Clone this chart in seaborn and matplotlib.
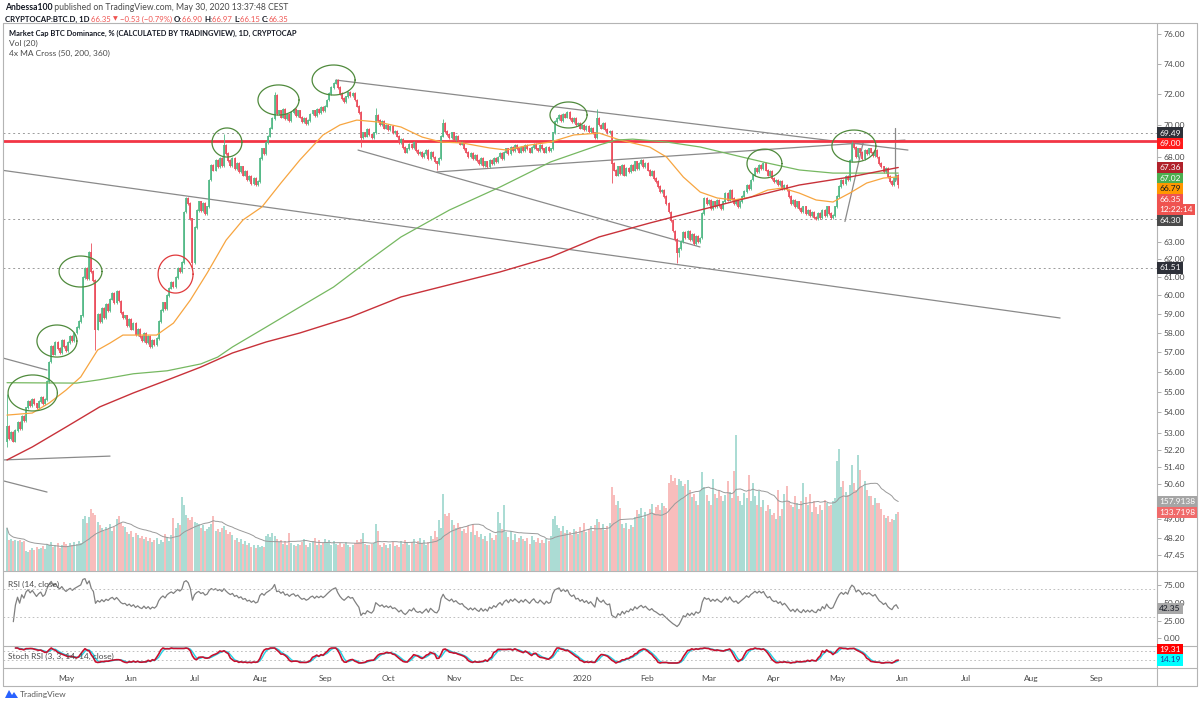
import numpy as np
import pandas as pd
import matplotlib
matplotlib.use("Agg")
import matplotlib.pyplot as plt
import matplotlib.dates as mdates
from matplotlib.lines import Line2D
from matplotlib.patches import Polygon
from matplotlib.ticker import FixedLocator, NullLocator, FuncFormatter
import seaborn as sns

sns.set_theme(style="white")
plt.rcParams["font.family"] = ["Lato", "DejaVu Sans"]

W, H = 1200, 704
START = pd.Timestamp("2019-04-03")

# ---------------- data (daily closes, BTC dominance %) ----------------
close_part1 = [53.3, 52.7, 53.0, 52.6, 53.1, 53.5, 53.2, 53.8, 53.6, 54.2, 54.5, 54.3, 54.6, 54.4, 54.2, 54.5, 54.7, 54.4, 54.6,
               55.5, 56.5, 57.3, 56.9, 57.5, 57.2, 57.0, 57.6, 57.3, 57.1, 57.5, 57.8, 57.6, 58.0, 58.3, 58.6, 58.9,
               61.0, 61.5, 60.9, 62.4, 61.3, 60.8, 58.2, 59.0,
               58.6, 59.3, 58.8, 59.5, 59.2, 59.8, 60.1, 59.6, 60.2, 59.7, 59.1, 58.8,
               58.9, 58.4, 58.7, 58.2, 58.5, 57.9, 58.2, 57.8,
               57.6, 58.0, 57.5, 57.8, 57.3, 57.6, 57.4, 57.7]
close_part2 = [58.6, 59.2, 59.6, 59.3, 60.0, 60.4, 60.7, 60.5, 61.0,
               61.5, 61.3, 61.8,
               64.7, 65.5, 65.2, 64.3, 61.8, 63.8, 64.8, 65.3, 64.8, 65.2, 64.6, 65.0,
               66.6, 67.5, 67.2, 67.8, 67.4, 67.9, 67.5, 68.7, 68.2, 67.8, 67.5, 67.9, 67.3, 67.6, 67.1, 67.4,
               66.9, 67.1, 66.6, 66.8, 66.4, 66.7, 66.3, 66.5,
               67.9, 68.5, 68.2, 68.9, 69.3, 69.8, 70.4, 71.9, 70.7,
               70.9, 70.5, 71.0, 70.4, 70.7, 70.3, 70.8, 71.0, 70.6,
               70.9, 70.5, 70.2, 70.4, 70.1, 70.3]
close_part3 = [70.7, 70.9, 70.6, 71.0, 70.8, 71.1, 70.9, 71.2,
               71.6, 72.0, 72.4, 72.7, 72.9,
               72.4, 72.0, 71.7, 71.5, 71.8,
               72.1, 71.9, 72.0, 71.6,
               71.2, 70.8, 69.2,
               69.5, 69.3, 69.7, 69.4, 69.2, 69.5,
               70.6,
               70.3, 70.0, 70.2, 69.8, 70.0, 69.7, 69.9, 69.5, 69.6, 69.3,
               68.9, 69.1, 68.6, 68.3, 68.5, 68.8, 68.6, 68.9, 68.4, 68.2,
               68.3, 68.0, 68.2, 68.4, 67.9, 68.3, 68.0, 67.7, 67.6, 67.9]
close_part4 = [69.3, 70.1, 69.6,
               69.4, 69.2, 69.5, 69.1, 69.3, 69.0, 68.8, 68.9,
               68.5, 68.3, 68.0, 68.2, 67.9, 68.1, 67.8,
               67.6, 67.9, 67.5, 67.7, 67.4, 67.8, 67.6, 67.9, 67.7, 68.0,
               68.2, 67.9, 68.3, 68.5, 68.2, 68.6, 68.4, 68.7, 68.5, 68.3, 68.6, 68.4,
               68.7, 68.5, 68.3, 68.6, 68.8, 68.5, 68.4, 68.7, 68.5, 68.3, 68.6, 68.4, 68.5,
               69.5, 70.2,
               70.4, 70.6, 70.3, 70.7, 70.5, 70.8, 70.4,
               70.2, 70.4, 70.0, 70.1, 69.8, 70.0, 69.7, 69.9, 69.6, 69.8, 69.5,
               69.2, 70.4, 70.0,
               69.8, 70.1, 69.7, 69.5, 69.6,
               67.6]
close_part5 = [67.2, 66.9, 67.4, 67.0, 67.5, 66.9, 67.3, 67.1, 67.5, 67.2, 67.7, 67.3, 67.6, 67.8, 67.4, 67.6, 67.2,
               66.9, 67.1, 66.7, 66.5, 66.2, 65.9, 66.0, 65.6, 65.2, 64.7, 64.2, 63.6, 63.1, 62.4,
               62.6, 63.0, 63.5, 63.2, 63.6, 63.1, 63.4, 62.9, 63.3, 63.0, 63.2,
               64.6, 65.5, 65.2, 65.4, 64.9, 65.3, 65.0, 65.4, 65.1, 64.9, 65.3, 65.8, 65.4, 66.0, 65.5, 65.2, 65.4, 65.0, 65.3, 65.6]
close_part6 = [65.9, 66.3, 66.1, 66.6, 66.9, 67.3, 67.1, 67.5, 67.3, 67.6, 67.2, 66.9, 67.1, 66.7, 66.5,
               66.6, 66.3, 66.5, 66.1, 66.3, 66.0, 65.6, 65.2, 65.4,
               65.0, 65.3, 64.9, 64.7, 65.0, 64.6, 64.8, 64.5, 64.7, 64.4, 64.3, 64.6, 64.4, 64.8, 64.5, 65.0, 64.6, 64.4, 64.5,
               65.0, 65.6, 66.2, 66.6, 66.4, 66.8, 66.6,
               67.8, 68.8, 68.6, 68.0, 68.5, 68.3, 67.9, 68.4, 68.2, 68.5, 68.3, 68.1, 68.4, 68.0,
               67.6, 67.4, 67.1, 67.3, 66.8, 66.5, 66.3, 66.7, 66.88, 66.35]

first_open = 52.6
open_override = {423: 66.90}
wick_high = {0: 54.9, 40: 62.9, 103: 69.4, 127: 72.1, 156: 73.0, 175: 71.1, 207: 70.4,
             280: 71.0, 401: 69.0, 423: 66.97}
wick_low = {0: 52.3, 42: 57.1, 88: 61.5, 168: 68.6, 204: 67.2, 287: 66.4, 318: 61.8,
            319: 62.1, 423: 66.15}

volume_part1 = [98, 70, 72, 68, 71, 69, 70, 66, 68, 45, 44, 47, 52, 48, 55, 50, 53, 57, 49,
                62, 58, 66, 55, 60, 64, 52, 58, 67, 61, 57, 63, 60, 66, 62, 68, 64,
                118, 126, 108, 122, 141, 132, 128, 112,
                104, 98, 92, 100, 95, 106, 90, 101, 118, 125, 110, 102,
                99, 88, 84, 90, 78, 86, 82, 76,
                80, 72, 78, 68, 75, 66, 70, 74]
volume_part2 = [62, 70, 65, 83, 77, 68, 82, 121, 98,
                110, 105, 168,
                151, 128, 120, 116, 122, 112, 108, 106, 98, 104, 92, 96,
                100, 106, 125, 92, 96, 88, 98, 102, 94, 85, 88, 82, 70, 76, 66, 72, 62, 68, 58, 63, 55, 60, 53, 58,
                55, 57, 54, 80, 84, 77, 86, 80, 72,
                66, 70, 62, 68, 58, 87, 64, 60, 56,
                62, 58, 66, 72, 60, 55]
volume_part3 = [63, 68, 76, 60, 70, 58, 64, 72,
                66, 70, 60, 68, 62,
                58, 64, 55, 62, 66,
                60, 54, 58, 63,
                70, 65, 72,
                87, 62, 60, 58, 61, 64,
                107,
                91, 60, 55, 64, 58, 53, 62, 66, 57, 60,
                55, 68, 62, 70, 64, 59, 66, 72, 61, 68,
                75, 63, 70, 58, 66, 80, 72, 90, 78, 117]
volume_part4 = [98, 174, 130,
                125, 132, 117, 105, 98, 110, 100, 92,
                95, 86, 102, 88, 106, 82, 90,
                78, 84, 72, 80, 68, 86, 74, 70, 82, 134,
                110, 95, 150, 88, 78, 92, 70, 84, 66, 76, 80, 72,
                68, 74, 62, 80, 70, 66, 75, 63, 70, 64, 72, 68, 80,
                118, 125,
                104, 98, 90, 102, 86, 94, 88,
                82, 96, 90, 84, 100, 92, 108, 88, 96, 102, 90,
                104, 119, 112,
                98, 106, 94, 102, 110,
                190]
volume_part5 = [172, 150, 158, 144, 106, 98, 110, 96, 104, 100, 122, 138, 130, 144, 120, 135, 128,
                140, 152, 132, 146, 150, 138, 155, 148, 142, 200, 219, 205, 212, 196,
                210, 204, 193, 198, 206, 185, 168, 175, 160, 150, 182,
                225, 190, 172, 160, 150, 208, 175, 165, 185, 170, 158, 172, 204, 180, 165, 227, 310, 170, 160, 150]
volume_part6 = [178, 166, 219, 160, 200, 170, 150, 181, 145, 162, 136, 150, 140, 128, 132,
                118, 185, 126, 140, 175, 193, 160, 150, 145,
                170, 155, 140, 160, 200, 168, 150, 174, 135, 160, 145, 130, 150, 138, 162, 155, 148, 150, 160,
                166, 250, 277, 190, 204, 180, 172,
                195, 240, 200, 185, 263, 229, 190, 205, 185, 170, 170, 150, 166, 155,
                155, 140, 128, 120, 125, 112, 118, 115, 128.556, 133.7198]

# moving averages (day index, value)
ma50_day = [0, 12, 20, 28, 35, 43, 49, 55, 63, 71, 79, 87, 95, 104, 112, 121, 130, 139, 150, 158, 166, 176, 187, 197,
            206, 216, 229, 237, 248, 258, 269, 281, 291, 305, 313, 321, 329, 337, 345, 353, 361, 368, 376, 384, 392,
            400, 408, 416, 423]
ma50_val = [53.85, 53.95, 54.44, 55.08, 55.74, 57.11, 57.48, 57.89, 57.89, 57.89, 58.52, 59.75, 61.23, 63.08, 64.24,
            65.0, 66.42, 67.82, 69.37, 70.0, 70.31, 70.19, 69.87, 69.24, 68.93, 68.87, 68.56, 68.43, 68.74, 68.93,
            69.37, 69.49, 69.05, 68.62, 68.0, 66.78, 65.88, 65.53, 65.41, 65.58, 66.0, 66.12, 65.82, 65.41, 65.29,
            65.82, 66.42, 66.72, 66.79]
ma200_day = [0, 33, 44, 60, 76, 92, 100, 107, 123, 139, 155, 171, 187, 210, 234, 258, 281, 289, 297, 313, 329, 345,
             361, 376, 392, 408, 423]
ma200_val = [55.45, 55.43, 55.6, 55.9, 56.05, 56.4, 56.75, 57.27, 58.31, 59.38, 60.46, 61.87, 63.26, 64.82, 66.18,
             67.7, 68.74, 69.05, 69.11, 68.93, 68.62, 68.12, 67.63, 67.21, 67.02, 67.02, 67.02]
ma360_day = [0, 12, 28, 44, 60, 76, 92, 107, 123, 139, 163, 187, 234, 258, 281, 305, 329, 353, 376, 400, 423]
ma360_val = [51.71, 52.32, 53.27, 54.25, 54.94, 55.58, 56.24, 56.96, 57.53, 58.0, 58.84, 59.92, 61.29, 62.12, 63.26,
             64.06, 64.82, 65.58, 66.3, 66.78, 67.36]

# drawings: horizontal levels, trend lines (day, price, day, price), ellipses (day0, day1, price_lo, price_hi)
level_red = 69.00
levels_dotted = [69.49, 64.30, 61.51]
trend_lines = [(156.1, 72.90, 427.6, 68.43), (166.6, 68.43, 328.9, 62.69), (-3.3, 67.21, 499.8, 58.79),
               (204.1, 67.09, 426.2, 69.05), (397.7, 64.15, 406.3, 68.87), (-1.9, 56.70, 19.0, 56.09),
               (-1.9, 51.71, 48.9, 51.89), (-3.3, 50.78, 19.0, 50.23), (421.6, 69.80, 421.6, 66.55)]
ellipses_green = [(0.5, 23.9, 54.05, 55.84), (14.2, 33.2, 56.75, 58.42), (24.7, 45.1, 60.46, 62.18),
                  (97.3, 111.5, 68.0, 69.81), (119.1, 138.6, 70.63, 72.58), (144.8, 165.2, 71.92, 73.90),
                  (257.7, 275.3, 69.81, 71.47), (351.2, 367.8, 66.72, 68.49), (391.5, 412.4, 67.69, 69.68)]
ellipses_red = [(71.7, 88.3, 60.13, 62.23)]
price_ticks = [76, 74, 72, 70, 68, 63, 62, 61, 60, 59, 58, 57, 56, 55, 54, 53, 52.2, 51.4, 50.6, 49,
               48.2, 47.45]
month_labels = ["May", "Jun", "Jul", "Aug", "Sep", "Oct", "Nov", "Dec", "2020", "Feb", "Mar", "Apr", "May", "Jun",
                "Jul", "Aug", "Sep"]
countdown = "12:22:14"

# ---------------- derived series ----------------
close = np.array(close_part1 + close_part2 + close_part3 + close_part4 + close_part5 + close_part6, dtype=float)
volume = np.array(volume_part1 + volume_part2 + volume_part3 + volume_part4 + volume_part5 + volume_part6, dtype=float)
n = len(close)


def day(i):
    return START + pd.to_timedelta(np.asarray(i, dtype=float), unit="D")


dates = day(np.arange(n))
opens = np.r_[first_open, close[:-1]]
for k, v in open_override.items():
    opens[k] = v
hi = np.maximum(opens, close) * 1.0012
lo = np.minimum(opens, close) / 1.0012
for k, v in wick_high.items():
    hi[k] = v
for k, v in wick_low.items():
    lo[k] = v
up = close >= opens

s = pd.Series(close)
delta = s.diff()
gain = delta.clip(lower=0).ewm(alpha=1 / 14, adjust=True).mean()
loss = (-delta.clip(upper=0)).ewm(alpha=1 / 14, adjust=True).mean()
rsi = 100 - 100 / (1 + gain / loss)
rsi.iloc[:3] = np.nan
rmin = rsi.rolling(14, min_periods=1).min()
rmax = rsi.rolling(14, min_periods=1).max()
stoch = 100 * (rsi - rmin) / (rmax - rmin).replace(0, np.nan)
k_line = stoch.rolling(3, min_periods=1).mean()
d_line = k_line.rolling(3, min_periods=1).mean()
vol_ma = pd.Series(volume).rolling(20, min_periods=1).mean()

# ---------------- figure ----------------
fig = plt.figure(figsize=(W / 100, H / 100), dpi=100)
fig.patch.set_facecolor("white")


def fx(x):
    return x / W


def fy(y):
    return 1 - y / H


L, R = 3, 1157
ax = fig.add_axes([fx(L), fy(571), (R - L) / W, (571 - 23) / H])
axv = ax.twinx()
axr = fig.add_axes([fx(L), fy(646), (R - L) / W, (646 - 571) / H], sharex=ax)
axs = fig.add_axes([fx(L), fy(668), (R - L) / W, (668 - 646) / H], sharex=ax)
axv.set_zorder(0)
ax.set_zorder(1)
ax.patch.set_visible(False)

UPC, DNC = "#53b987", "#eb4d5c"
VUP, VDN = "#92d2c8", "#f6a9a8"

# volume
axv.vlines(dates, 0, volume, colors=np.where(up, VUP, VDN), lw=1.1)
sns.lineplot(x=dates, y=vol_ma.values, ax=axv, color="#9a9a9a", lw=0.7, estimator=None, sort=False)
axv.set_ylim(0, 1245)
axv.set_yticks([])

# price
ax.set_yscale("log")
ax.set_ylim(46.77, 76.76)
ax.axhline(level_red, color="#f23645", lw=2.0, zorder=3)
for lv in levels_dotted:
    ax.axhline(lv, color="#9b9b9b", lw=0.7, ls=(0, (2, 3)), zorder=1)
for d0, p0, d1, p1 in trend_lines:
    ax.plot(day([d0, d1]), [p0, p1], color="#8a8a8a", lw=0.9, zorder=2)

cols = np.where(up, UPC, DNC)
ax.vlines(dates, lo, hi, colors=cols, lw=0.6, zorder=4)
bmin = np.minimum(opens, close) / 1.0004
bmax = np.maximum(opens, close) * 1.0004
ax.vlines(dates, bmin, bmax, colors=cols, lw=1.25, zorder=4)

sns.lineplot(x=day(ma50_day), y=ma50_val, ax=ax, color="#f7a540", lw=0.9, estimator=None, sort=False, zorder=5)
sns.lineplot(x=day(ma200_day), y=ma200_val, ax=ax, color="#76b861", lw=0.9, estimator=None, sort=False, zorder=5)
sns.lineplot(x=day(ma360_day), y=ma360_val, ax=ax, color="#c8323a", lw=1.0, estimator=None, sort=False, zorder=5)

t = np.linspace(0, 2 * np.pi, 160)
for group, colr in ((ellipses_green, "#4f8a3c"), (ellipses_red, "#e0393b")):
    for d0, d1, p0, p1 in group:
        cx, rx = (d0 + d1) / 2, (d1 - d0) / 2
        cy, ry = (np.log(p0) + np.log(p1)) / 2, (np.log(p1) - np.log(p0)) / 2
        ax.plot(day(cx + rx * np.cos(t)), np.exp(cy + ry * np.sin(t)), color=colr, lw=0.9, zorder=6)

ax.set_xlim(day(-1.9), day(545.8))
ax.yaxis.tick_right()
ax.yaxis.set_major_locator(FixedLocator(price_ticks))
ax.yaxis.set_minor_locator(NullLocator())
ax.yaxis.set_major_formatter(FuncFormatter(lambda v, p: f"{v:.2f}"))
ax.tick_params(axis="y", which="both", length=3, width=0.6, color="#a0a0a0", labelsize=6,
               labelcolor="#4a4a4a", pad=2, right=True, left=False)
ax.tick_params(axis="x", bottom=False, labelbottom=False)

# RSI
sns.lineplot(x=dates, y=rsi.values, ax=axr, color="#808080", lw=0.9, estimator=None, sort=False)
for lv in (70, 30):
    axr.axhline(lv, color="#b5b5b5", lw=0.6, ls=(0, (2, 3)))
axr.set_ylim(-11.4, 95.7)
axr.yaxis.tick_right()
axr.set_yticks([75, 50, 25, 0])
axr.yaxis.set_major_formatter(FuncFormatter(lambda v, p: f"{v:.2f}"))
axr.tick_params(axis="y", length=3, width=0.6, color="#a0a0a0", labelsize=6, labelcolor="#4a4a4a", pad=2)
axr.tick_params(axis="x", bottom=False, labelbottom=False)

# Stoch RSI  (%D cyan underneath, %K red on top)
for lv in (80, 20):
    axs.axhline(lv, color="#b5b5b5", lw=0.6, ls=(0, (2, 3)))
sns.lineplot(x=dates, y=d_line.values, ax=axs, color="#22d3e6", lw=1.0, estimator=None, sort=False)
sns.lineplot(x=dates, y=k_line.values, ax=axs, color="#c8102e", lw=1.2, estimator=None, sort=False)
axs.set_ylim(-33.3, 113.3)
axs.set_yticks([])
months = pd.date_range("2019-05-01", "2020-09-01", freq="MS")
axs.set_xticks(months)
axs.set_xticklabels(month_labels)
axs.tick_params(axis="x", length=3, width=0.6, color="#b0b0b0", labelsize=6, labelcolor="#4a4a4a", pad=2)

for a in (ax, axv, axr, axs):
    for sp in a.spines.values():
        sp.set_visible(False)
    a.set_xlabel("")
    a.set_ylabel("")

# frame and separators
fc = "#b4b4b4"
for (x0, y0, x1, y1) in [(3, 23, 1197, 23), (3, 686, 1197, 686), (3, 23, 3, 686), (1197, 23, 1197, 686),
                         (3, 571, 1197, 571), (3, 646, 1197, 646), (3, 668, 1197, 668), (1157, 23, 1157, 686)]:
    fig.add_artist(Line2D([fx(x0), fx(x1)], [fy(y0), fy(y1)], color=fc, lw=0.8, transform=fig.transFigure))

# header and pane titles
fig.canvas.draw()
renderer = fig.canvas.get_renderer()


def seq_text(x, y, parts, size):
    for txt, colr, bold in parts:
        tt = fig.text(fx(x), fy(y), txt, color=colr, fontweight="bold" if bold else "normal",
                      fontsize=size * (0.8 if txt == "▼" else 1.0), va="center", ha="left")
        x += tt.get_window_extent(renderer).width


RED = "#ef5350"
DARK = "#131722"
chg = close[-1] - close[-2]
seq_text(5, 7, [("Anbessa100", DARK, True),
                (" published on TradingView.com, May 30, 2020 13:37:48 CEST", "#4a4a4a", False)], 6.2)
seq_text(5, 19, [("CRYPTOCAP:BTC.D, 1D ", DARK, True), (f"{close[-1]:.2f} ", RED, False),
                 ("▼", RED, False),
                 (f" \u2212{abs(chg):.2f} (\u2212{abs(chg) / close[-2] * 100:.2f}%) ", RED, False),
                 ("O:", DARK, True), (f"{opens[-1]:.2f} ", RED, False),
                 ("H:", DARK, True), (f"{hi[-1]:.2f} ", RED, False),
                 ("L:", DARK, True), (f"{lo[-1]:.2f} ", RED, False),
                 ("C:", DARK, True), (f"{close[-1]:.2f}", RED, False)], 5.6)
seq_text(9, 33, [("Market Cap BTC Dominance, % (CALCULATED BY TRADINGVIEW), 1D, CRYPTOCAP", DARK, True)], 5.4)
seq_text(9, 43, [("Vol (20)", "#4a4a4a", False)], 6.0)
seq_text(9, 53, [("4x MA Cross (50, 200, 360)", "#4a4a4a", False)], 6.0)
seq_text(8, 584, [("RSI (14, close)", "#4a4a4a", False)], 6.0)
seq_text(8, 656, [("Stoch RSI (3, 3, 14, 14, close)", "#4a4a4a", False)], 6.0)

# TradingView logo
fig.add_artist(Polygon([[fx(5), fy(698)], [fx(9), fy(690)], [fx(12), fy(695)], [fx(14), fy(692)], [fx(18), fy(698)]],
                       closed=True, fc="#2962ff", ec="none", transform=fig.transFigure))
seq_text(20, 694, [("TradingView", "#5a5a5a", False)], 6.0)

# right-axis value tags
xl = mdates.date2num(dates[-1])


def ytop(a, v):
    return H - a.transData.transform((xl, v))[1]


price_tags = [
    (ytop(ax, 69.49), "69.49", "#2e3139", "white"),
    (ytop(ax, level_red), f"{level_red:.2f}", "#ff1a1a", "white"),
    (ytop(ax, ma360_val[-1]), f"{ma360_val[-1]:.2f}", "#b0222b", "white"),
    (ytop(ax, ma200_val[-1]), f"{ma200_val[-1]:.2f}", "#4caf50", "white"),
    (ytop(ax, ma50_val[-1]), f"{ma50_val[-1]:.2f}", "#ff9800", DARK),
    (ytop(ax, close[-1]), f"{close[-1]:.2f}", "#ef5350", "white"),
    (ytop(ax, close[-1]) + 0.1, countdown, "#ef5350", "white"),
    (ytop(ax, 64.30), "64.30", "#4b4b4b", "white"),
    (ytop(ax, 61.51), "61.51", "#2e3139", "white"),
]
vol_tags = [
    (ytop(axv, vol_ma.values[-1]), f"{vol_ma.values[-1]:.4f}", "#a5a5a5", "white"),
    (ytop(axv, volume[-1]), f"{volume[-1]:.4f}", "#f06b6b", "white"),
]
rsi_tags = [(ytop(axr, rsi.values[-1]), f"{rsi.values[-1]:.2f}", "#a8a8a8", DARK)]
st_tags = [(ytop(axs, k_line.values[-1]), f"{k_line.values[-1]:.2f}", "#ff0000", "white"),
           (ytop(axs, d_line.values[-1]), f"{d_line.values[-1]:.2f}", "#00ffff", "#1b3a9a")]


def place(tags, gap=10.6, ymax=None):
    tags = sorted(tags, key=lambda r: r[0])
    ys = []
    for tg in tags:
        y = tg[0]
        if ys and y < ys[-1] + gap:
            y = ys[-1] + gap
        ys.append(y)
    if ymax is not None and ys[-1] > ymax:
        sh = ys[-1] - ymax
        ys = [y - sh for y in ys]
    for y, tg in zip(ys, tags):
        fig.text(fx(1159), fy(y), tg[1], fontsize=6, color=tg[3], va="center", ha="left",
                 bbox=dict(boxstyle="square,pad=0.25", fc=tg[2], ec="none"))


place(price_tags)
place(vol_tags)
place(rsi_tags)
place(st_tags, ymax=660)

fig.savefig("out.png", dpi=100)
